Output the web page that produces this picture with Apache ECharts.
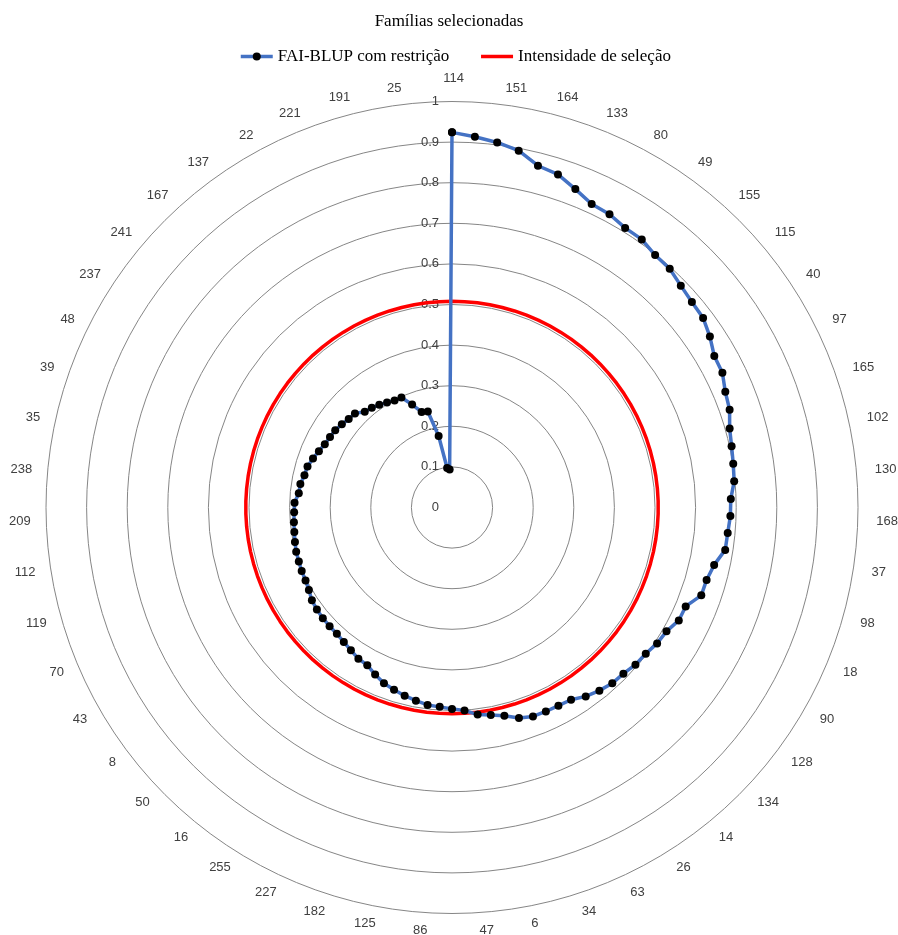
<!DOCTYPE html>
<html>
<head>
<meta charset="utf-8">
<title>Famílias selecionadas</title>
<script src="https://cdn.jsdelivr.net/npm/echarts@6/dist/echarts.min.js"></script>
<style>
  html, body { margin: 0; padding: 0; background: #ffffff; }
  #chart { width: 898px; height: 935px; }
</style>
</head>
<body>
<div id="chart"></div>
<script>
// Families printed around the ring; every other family is left unlabelled
const labelledFamilies = ['114', '151', '164', '133', '80', '49', '155', '115', '40', '97',
  '165', '102', '130', '168', '37', '98', '18', '90', '128', '134',
  '14', '26', '63', '34', '6', '47', '86', '125', '182', '227',
  '255', '16', '50', '8', '43', '70', '119', '112', '209', '238',
  '35', '39', '48', '237', '241', '167', '137', '22', '221', '191', '25'];

// FAI-BLUP index with restriction, one value per family, clockwise from the top
const faiBlup = [
  0.924, 0.915, 0.906, 0.894, 0.868, 0.861, 0.841, 0.823, 0.820, 0.810,
  0.809, 0.798, 0.796, 0.785, 0.778, 0.775, 0.762, 0.746, 0.744, 0.731,
  0.725, 0.711, 0.705, 0.701, 0.698, 0.687, 0.686, 0.682, 0.681, 0.661,
  0.652, 0.651, 0.625, 0.624, 0.610, 0.606, 0.598, 0.595, 0.588, 0.586,
  0.579, 0.570, 0.557, 0.554, 0.553, 0.552, 0.544, 0.529, 0.520, 0.514,
  0.501, 0.496, 0.492, 0.490, 0.484, 0.478, 0.471, 0.464, 0.453, 0.441,
  0.438, 0.431, 0.425, 0.421, 0.420, 0.419, 0.417, 0.414, 0.407, 0.403,
  0.402, 0.400, 0.399, 0.396, 0.393, 0.391, 0.389, 0.388, 0.379, 0.378,
  0.372, 0.370, 0.363, 0.356, 0.350, 0.347, 0.345, 0.340, 0.335, 0.333,
  0.319, 0.315, 0.310, 0.304, 0.299, 0.298, 0.272, 0.247, 0.244, 0.179,
  0.098, 0.094
];

// Selection intensity, the same for every family
const selectionIntensity = 0.508;

// Radial scale
const radialMin = 0;
const radialMax = 1;
const radialStep = 0.1;

// ---- derived structures ----
const families = faiBlup.map((_, i) => (i % 2 === 0 ? labelledFamilies[i / 2] : ''));
const n = families.length;

// Polar line points [radius, familyPosition]; position n is the full turn,
// so repeating the first value there closes the loop
function closedRing(values) {
  const pts = values.map((v, i) => [v, i]);
  pts.push([values[0], n]);
  return pts;
}
const blupPoints = closedRing(faiBlup);
const intensityPoints = closedRing(families.map(() => selectionIntensity));

// Radar indicators run counter-clockwise, so list them in reverse to label clockwise
const radarOrder = families.map((_, i) => (n - i) % n);

const CENTER = [452, 507.5];
const RADIUS = 406;
const NAME_CENTER = [453.5, 508];
const SANS = 'Liberation Sans';
const SERIF = 'Liberation Serif';
const TEXT_GREY = '#404040';

const chart = echarts.init(document.getElementById('chart'), null, { renderer: 'canvas' });

chart.setOption({
  animation: false,
  backgroundColor: '#ffffff',
  title: {
    text: 'Famílias selecionadas',
    left: 'center',
    top: 8,
    textStyle: { fontFamily: SERIF, fontSize: 17, fontWeight: 'normal', color: '#000000' }
  },
  legend: {
    top: 43,
    left: 234,
    itemWidth: 32,
    itemHeight: 10,
    itemGap: 30,
    lineStyle: { width: 3.5 },
    data: [
      { name: 'FAI-BLUP com restrição' },
      { name: 'Intensidade de seleção', itemStyle: { opacity: 0 } }
    ],
    textStyle: { fontFamily: SERIF, fontSize: 17, color: '#000000' }
  },
  polar: { center: CENTER, radius: RADIUS },
  angleAxis: {
    type: 'value',
    min: 0,
    max: n,
    startAngle: 90,
    clockwise: true,
    axisLine: { show: false },
    axisTick: { show: false },
    axisLabel: { show: false },
    splitLine: { show: false }
  },
  radiusAxis: {
    type: 'value',
    min: radialMin,
    max: radialMax,
    interval: radialStep,
    axisLine: { show: false },
    axisTick: { show: false },
    axisLabel: { margin: 13, color: TEXT_GREY, fontSize: 13, fontFamily: SANS },
    splitLine: { show: true, lineStyle: { color: '#868686', width: 1 } }
  },
  radar: {
    center: NAME_CENTER,
    radius: RADIUS,
    startAngle: 90,
    shape: 'circle',
    splitNumber: 10,
    nameGap: 17,
    indicator: radarOrder.map(i => ({ name: families[i], min: radialMin, max: radialMax })),
    axisName: { color: TEXT_GREY, fontSize: 13, fontFamily: SANS },
    axisLine: { show: false },
    axisTick: { show: false },
    axisLabel: { show: false },
    splitLine: { show: false },
    splitArea: { show: false }
  },
  series: [
    {
      name: 'Intensidade de seleção',
      type: 'line',
      coordinateSystem: 'polar',
      data: intensityPoints,
      symbol: 'none',
      clip: false,
      itemStyle: { color: '#FF0000' },
      lineStyle: { color: '#FF0000', width: 3.5 },
      silent: true,
      z: 2
    },
    {
      name: 'FAI-BLUP com restrição',
      type: 'line',
      coordinateSystem: 'polar',
      data: blupPoints,
      symbol: 'circle',
      symbolSize: 8,
      showAllSymbol: true,
      clip: false,
      itemStyle: { color: '#000000' },
      lineStyle: { color: '#4472C4', width: 3.5 },
      silent: true,
      z: 3
    }
  ]
});
</script>
</body>
</html>
